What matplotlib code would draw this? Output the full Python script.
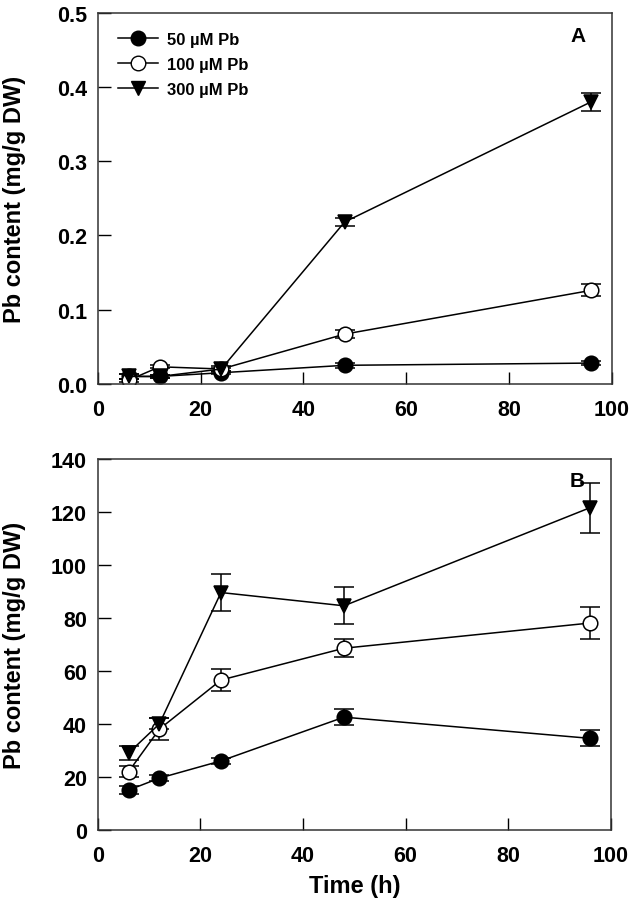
import matplotlib
matplotlib.use("Agg")
import matplotlib.pyplot as plt
from matplotlib.lines import Line2D

plt.rcParams['font.family'] = ['Liberation Sans', 'DejaVu Sans']
plt.rcParams['font.weight'] = 'bold'

time_h = [6, 12, 24, 48, 96]
labels = ['50 µM Pb', '100 µM Pb', '300 µM Pb']

# panel A
a_50 = [0.010, 0.010, 0.015, 0.025, 0.028]
a_50_err = [0.003, 0.002, 0.002, 0.003, 0.003]
a_100 = [0.005, 0.023, 0.020, 0.067, 0.126]
a_100_err = [0.002, 0.002, 0.002, 0.005, 0.008]
a_300 = [0.010, 0.010, 0.020, 0.218, 0.380]
a_300_err = [0.003, 0.002, 0.004, 0.006, 0.012]

# panel B
b_50 = [15.0, 19.5, 26.0, 42.5, 34.5]
b_50_err = [1.5, 1.2, 1.2, 3.0, 3.0]
b_100 = [22.0, 38.0, 56.5, 68.5, 78.0]
b_100_err = [2.0, 4.0, 4.0, 3.5, 6.0]
b_300 = [29.0, 40.0, 89.5, 84.5, 121.5]
b_300_err = [2.5, 2.0, 7.0, 7.0, 9.5]

styles = [dict(marker='o', mfc='black', ms=10.5),
          dict(marker='o', mfc='white', ms=10.5),
          dict(marker='v', mfc='black', ms=10)]

fig = plt.figure(figsize=(6.36, 9.12), dpi=100)
axA = fig.add_axes([0.154, 0.578, 0.808, 0.407])
axB = fig.add_axes([0.154, 0.089, 0.806, 0.407])

def draw(ax, series, errs):
    for y, e, st in zip(series, errs, styles):
        ax.errorbar(time_h, y, yerr=e, color='black', lw=1.1, mec='black', mew=1.1,
                    capsize=7.5, elinewidth=1.1, capthick=1.1, **st)
    ax.set_xlim(0, 100)
    ax.set_xticks(range(0, 101, 20))
    ax.tick_params(direction='in', length=9, labelsize=15.5, width=1)
    ax.tick_params(axis='x', pad=11)
    ax.tick_params(axis='y', pad=8)
    ax.set_ylabel('Pb content (mg/g DW)', fontsize=17, fontweight='bold')
    ax.yaxis.set_label_coords(-0.14, 0.5)
    for s in ax.spines.values():
        s.set_linewidth(1.1)
        s.set_color('#333333')

draw(axA, [a_50, a_100, a_300], [a_50_err, a_100_err, a_300_err])
axA.set_ylim(0, 0.5)
axA.set_yticks([0.0, 0.1, 0.2, 0.3, 0.4, 0.5])
axA.set_yticklabels(['0.0', '0.1', '0.2', '0.3', '0.4', '0.5'])
handles = [Line2D([], [], color='black', lw=1.1, mec='black', **st) for st in styles]
axA.legend(handles, labels, loc='upper left', frameon=False, fontsize=12,
           handlelength=2.4, handletextpad=0.55, labelspacing=0.6,
           borderpad=0, borderaxespad=0, bbox_to_anchor=(0.039, 0.949))
axA.text(0.934, 0.938, 'A', transform=axA.transAxes, fontsize=15, fontweight='bold',
         ha='center', va='center')

draw(axB, [b_50, b_100, b_300], [b_50_err, b_100_err, b_300_err])
axB.set_ylim(0, 140)
axB.set_yticks(range(0, 141, 20))
axB.set_xlabel('Time (h)', fontsize=17, fontweight='bold', labelpad=6)
axB.text(0.934, 0.941, 'B', transform=axB.transAxes, fontsize=15, fontweight='bold',
         ha='center', va='center')

fig.savefig('out.png', dpi=100)
